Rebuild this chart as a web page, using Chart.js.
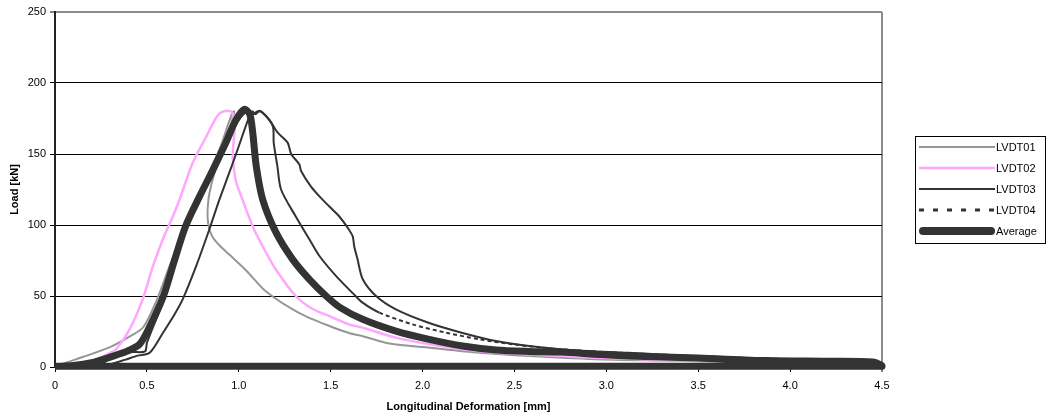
<!DOCTYPE html>
<html>
<head>
<meta charset="utf-8">
<script src="https://cdn.jsdelivr.net/npm/chart.js@4"></script>
<style>
  html, body { margin: 0; padding: 0; background: #fff; }
  #wrap { width: 1046px; height: 420px; position: relative; }
</style>
</head>
<body>
<div id="wrap"><canvas id="c" width="1046" height="420"></canvas></div>
<script>
// ---- Data (x = deformation mm, y = load kN) ----
const seriesNames = ["LVDT01", "LVDT02", "LVDT03", "LVDT04", "Average"];

const lvdt01X = [0, 0.06, 0.15, 0.3, 0.4, 0.48, 0.55, 0.62, 0.70, 0.78, 0.85, 0.90, 0.94, 0.965, 0.975,
  0.96, 0.93, 0.90, 0.877, 0.85, 0.835, 0.83, 0.84, 0.86, 0.90, 0.95, 1.04, 1.15, 1.33, 1.51, 1.6, 1.68,
  1.82, 2.04, 2.31, 2.58, 2.94, 3.3, 3.7, 4.1, 4.45];
const lvdt01Y = [0, 3, 7, 14, 21, 28, 46, 70, 96, 120, 140, 155, 170, 179, 180,
  172, 163, 152, 141, 128, 118, 106, 97, 91, 85, 79, 68, 53, 38, 28, 24, 21.5,
  16.5, 13.5, 10, 7.7, 5.5, 4.5, 3.5, 3, 2.5];

const lvdt02X = [0, 0.1, 0.2, 0.3, 0.333, 0.406, 0.478, 0.533, 0.587, 0.641, 0.678, 0.75, 0.822, 0.87,
  0.9, 0.94, 0.965, 0.977, 0.97, 0.967, 0.975, 0.986, 1.02, 1.076, 1.13, 1.2, 1.31, 1.4, 1.49, 1.6,
  1.674, 1.855, 2.04, 2.22, 2.4, 2.76, 2.94, 3.3, 3.7, 4.1, 4.45];
const lvdt02Y = [0, 0.5, 4, 10, 12.5, 26.5, 48, 71, 90, 106, 118, 144, 162, 174,
  179, 180.5, 179, 168, 156, 148, 138, 130, 118, 99, 85, 69, 50, 41, 36, 30,
  27.7, 20.7, 16, 12.5, 10, 7.7, 6.6, 5, 4, 3.5, 3];

const lvdt03X = [0, 0.2, 0.3, 0.38, 0.45, 0.515, 0.587, 0.65, 0.696, 0.768, 0.84, 0.895, 0.977, 1.058,
  1.076, 1.09, 1.113, 1.13, 1.167, 1.212, 1.266, 1.285, 1.33, 1.339, 1.393, 1.44, 1.493, 1.547, 1.593,
  1.62, 1.628, 1.646, 1.674, 1.747, 1.855, 2.036, 2.218, 2.4, 2.58, 2.8, 3.12, 3.5, 4.0, 4.45];
const lvdt03Y = [0, 0.5, 2, 5, 8, 10, 24, 37, 48, 71, 97, 118, 147, 176.6,
  180, 178, 180.5, 179, 174, 165, 158, 150, 142.6, 138, 127, 120, 113, 106, 98,
  92, 85, 76, 62, 50, 40.6, 31, 24, 18.3, 14.8, 12, 10, 7.5, 5.5, 4.5];

const lvdt04X = [0, 0.15, 0.25, 0.3, 0.35, 0.42, 0.49, 0.5, 0.53, 0.6, 0.66, 0.72, 0.8, 0.87, 0.94,
  1.0, 1.05, 1.08, 1.1, 1.13, 1.185, 1.19, 1.21, 1.23, 1.31, 1.384, 1.44, 1.53, 1.62, 1.674, 1.765,
  1.946, 2.127, 2.31, 2.49, 2.7, 3.0, 3.5, 4.0, 4.45];
const lvdt04Y = [0, 0.5, 2, 6, 9, 10.5, 11, 17, 27, 50, 75, 99, 122, 141, 160,
  174, 180, 178, 180, 179, 169.6, 158, 141.5, 125, 106, 90, 78, 64, 52, 45.3, 38.3,
  30, 24.2, 19.5, 16, 13, 10.5, 7.5, 5.5, 4];

const averageX = [0, 0.1, 0.2, 0.3, 0.39, 0.46, 0.51, 0.59, 0.65, 0.71, 0.786, 0.86, 0.93, 0.985, 1.031,
  1.06, 1.076, 1.095, 1.13, 1.203, 1.293, 1.384, 1.475, 1.55, 1.674, 1.855, 2.036, 2.218, 2.4, 2.58,
  2.76, 2.94, 3.12, 3.5, 3.87, 4.2, 4.45, 4.5, 4.5, 0];
const averageY = [0.5, 1, 3, 7, 11, 16, 27, 50, 75, 99, 120, 139, 158, 174, 181.5,
  178, 165, 141.5, 118, 94.6, 75.8, 61.7, 50, 42, 33.6, 25.3, 19.5, 14.8, 12, 11,
  10.5, 9, 7.7, 6.3, 4.5, 4, 3.5, 1, 0.6, 0.6];

const xTickStep = 0.5, xMax = 4.5, yTickStep = 50, yMax = 250;
const xTitle = "Longitudinal Deformation [mm]";
const yTitle = "Load [kN]";

function pts(xs, ys) { return xs.map((x, i) => ({ x: x, y: ys[i] })); }

const FONT = "'Liberation Sans', Arial, Helvetica, sans-serif";
const DARK = '#333333';

const datasets = [
  { label: seriesNames[0], data: pts(lvdt01X, lvdt01Y), borderColor: '#969696', borderWidth: 2, order: 4 },
  { label: seriesNames[1], data: pts(lvdt02X, lvdt02Y), borderColor: '#ffa6ff', borderWidth: 2.5, order: 3 },
  { label: seriesNames[2], data: pts(lvdt03X, lvdt03Y), borderColor: DARK, borderWidth: 2, order: 2 },
  { label: seriesNames[3], data: pts(lvdt04X, lvdt04Y), borderColor: DARK, borderWidth: 2, order: 1,
    legendDash: [5, 9], legendWidth: 3,
    segment: { borderDash: ctx => (ctx.p0.parsed.x > 1.7 ? [4, 3] : undefined) } },
  { label: seriesNames[4], data: pts(averageX, averageY), borderColor: DARK, borderWidth: 7, order: 0,
    legendWidth: 8, legendCap: 'round' }
].map(d => Object.assign({ showLine: true, pointRadius: 0, fill: false, tension: 0.28,
  borderJoinStyle: 'round', borderCapStyle: 'butt', clip: 4 }, d));

const legendPlugin = {
  id: 'boxLegend',
  afterDraw(chart) {
    const ctx = chart.ctx;
    const bx = 915.5, by = 136.5, bw = 130, bh = 107;
    ctx.save();
    ctx.fillStyle = '#fff';
    ctx.fillRect(bx, by, bw, bh);
    ctx.strokeStyle = '#000';
    ctx.lineWidth = 1;
    ctx.strokeRect(bx, by, bw, bh);
    chart.data.datasets.forEach((ds, i) => {
      const y = 147 + i * 21;
      ctx.beginPath();
      ctx.strokeStyle = ds.borderColor;
      ctx.lineWidth = ds.legendWidth || ds.borderWidth;
      ctx.lineCap = ds.legendCap || 'butt';
      ctx.setLineDash(ds.legendDash || []);
      const x0 = ds.legendCap ? 923 : 919;
      const x1 = ds.legendCap ? 991 : 995;
      ctx.moveTo(x0, y);
      ctx.lineTo(x1, y);
      ctx.stroke();
      ctx.setLineDash([]);
      ctx.fillStyle = '#000';
      ctx.font = '11px ' + FONT;
      ctx.textBaseline = 'middle';
      ctx.textAlign = 'left';
      ctx.fillText(ds.label, 996, y + 1);
    });
    ctx.restore();
  }
};

new Chart(document.getElementById('c'), {
  type: 'scatter',
  data: { datasets: datasets },
  options: {
    responsive: false,
    animation: false,
    devicePixelRatio: 1,
    layout: { padding: { top: 12, right: 164, left: 0, bottom: 0 } },
    plugins: { legend: { display: false }, tooltip: { enabled: false }, title: { display: false } },
    scales: {
      x: {
        type: 'linear', min: 0, max: xMax,
        ticks: { stepSize: xTickStep, color: '#000', font: { family: FONT, size: 11 }, padding: 7, maxRotation: 0 },
        grid: {
          drawOnChartArea: true,
          color: c => (c.tick && c.tick.value === xMax ? '#8c8c8c' : 'rgba(0,0,0,0)'),
          lineWidth: c => (c.tick && c.tick.value === xMax ? 2 : 1),
          tickColor: '#000', tickLength: 5, tickWidth: 1
        },
        border: { display: true, color: '#222', width: 2 },
        title: { display: true, text: xTitle, color: '#000', font: { family: FONT, size: 11, weight: 'bold' }, padding: { top: 2, bottom: 6 } },
        afterFit: s => { s.height = 53; }
      },
      y: {
        type: 'linear', min: 0, max: yMax,
        ticks: { stepSize: yTickStep, color: '#000', font: { family: FONT, size: 11 }, padding: 4 },
        grid: {
          color: c => (c.tick && c.tick.value === yMax ? '#8c8c8c' : '#000'),
          lineWidth: c => (c.tick && c.tick.value === yMax ? 2 : 1),
          tickColor: '#000', tickLength: 5, tickWidth: 1
        },
        border: { display: true, color: '#222', width: 2 },
        title: { display: true, text: yTitle, color: '#000', font: { family: FONT, size: 11, weight: 'bold' }, padding: { top: 8, bottom: 2 } },
        afterFit: s => { s.width = 55; }
      }
    }
  },
  plugins: [legendPlugin]
});
</script>
</body>
</html>
